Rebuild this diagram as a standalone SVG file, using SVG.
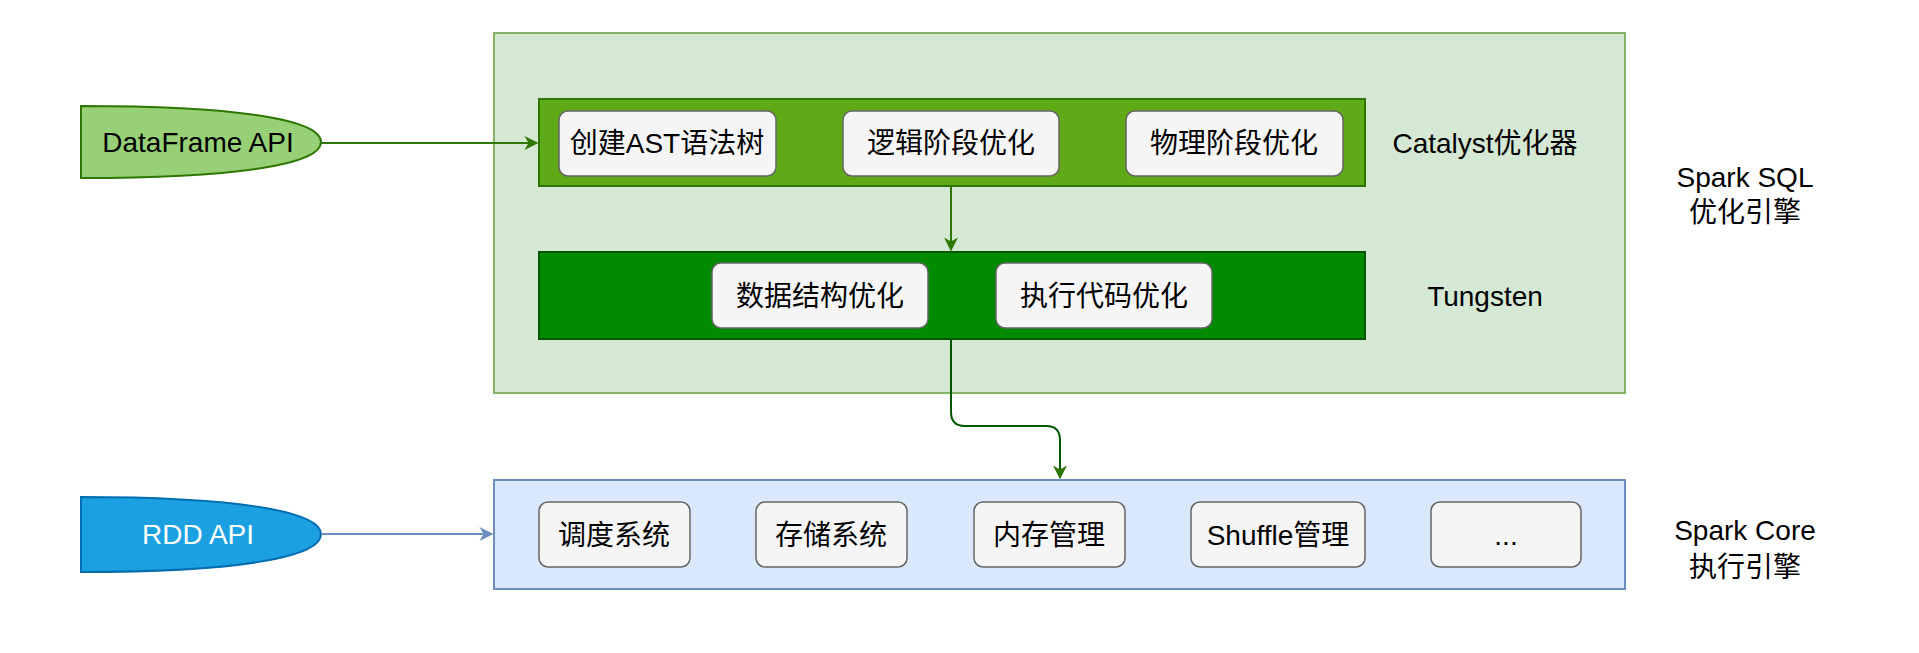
<svg xmlns="http://www.w3.org/2000/svg" width="1919" height="653" viewBox="0 0 1919 653">
<defs>
<style>
text{font-family:"Liberation Sans","Noto Sans CJK SC",sans-serif;font-size:28px;text-anchor:middle;dominant-baseline:central;fill:#000}
.b{fill:#f5f5f5;stroke:#666;stroke-width:1.5}
</style>
<marker id="ag" viewBox="0 0 10 10" refX="9" refY="5" markerWidth="7" markerHeight="7" orient="auto"><path d="M0,0L10,5L0,10L3,5Z" fill="#2d7600"/></marker>
<marker id="ab" viewBox="0 0 10 10" refX="9" refY="5" markerWidth="7" markerHeight="7" orient="auto"><path d="M0,0L10,5L0,10L3,5Z" fill="#6c8ebf"/></marker>
</defs>
<rect width="1919" height="653" fill="#fff"/>
<g id="sparksql"><rect x="494" y="33" width="1131" height="360" fill="#d5e8d4" stroke="#82b366" stroke-width="2"/><text x="1745" y="177">Spark SQL</text><text x="1745" y="212">优化引擎</text></g>
<g id="catalyst"><rect x="539" y="99" width="826" height="87" fill="#60a917" stroke="#2d7600" stroke-width="2"/><text x="1485" y="143">Catalyst优化器</text></g>
<g id="ast"><rect class="b" x="559" y="111" width="217" height="65" rx="9"/><text x="667" y="143">创建AST语法树</text></g>
<g id="logic"><rect class="b" x="843" y="111" width="216" height="65" rx="9"/><text x="951" y="143">逻辑阶段优化</text></g>
<g id="phys"><rect class="b" x="1126" y="111" width="217" height="65" rx="9"/><text x="1234" y="143">物理阶段优化</text></g>
<g id="tungsten"><rect x="539" y="252" width="826" height="87" fill="#008a00" stroke="#005700" stroke-width="2"/><text x="1485" y="296">Tungsten</text></g>
<g id="ds"><rect class="b" x="712" y="263" width="216" height="65" rx="9"/><text x="820" y="296">数据结构优化</text></g>
<g id="code"><rect class="b" x="996" y="263" width="216" height="65" rx="9"/><text x="1104" y="296">执行代码优化</text></g>
<g id="core"><rect x="494" y="480" width="1131" height="109" fill="#dae8fc" stroke="#6c8ebf" stroke-width="2"/><text x="1745" y="530">Spark Core</text><text x="1745" y="567">执行引擎</text></g>
<g id="sched"><rect class="b" x="539" y="502" width="151" height="65" rx="9"/><text x="614" y="535">调度系统</text></g>
<g id="store"><rect class="b" x="756" y="502" width="151" height="65" rx="9"/><text x="831" y="535">存储系统</text></g>
<g id="mem"><rect class="b" x="974" y="502" width="151" height="65" rx="9"/><text x="1049" y="535">内存管理</text></g>
<g id="shuffle"><rect class="b" x="1191" y="502" width="174" height="65" rx="9"/><text x="1278" y="535">Shuffle管理</text></g>
<g id="more"><rect class="b" x="1431" y="502" width="150" height="65" rx="9"/><text x="1506" y="535">...</text></g>
<g id="df"><path d="M81,106C240,106 321,120 321,142C321,164 240,178 81,178Z" fill="#97d077" stroke="#2d7600" stroke-width="2"/><text x="198" y="142">DataFrame API</text></g>
<g id="rdd"><path d="M81,497C240,497 321,512 321,534C321,557 240,572 81,572Z" fill="#1ba1e2" stroke="#006eaf" stroke-width="2"/><text x="198" y="534" style="fill:#fff">RDD API</text></g>
<g id="connectors" fill="none" stroke-width="2">
<path d="M321,143H537" stroke="#2d7600" marker-end="url(#ag)"/>
<path d="M951,186V250" stroke="#2d7600" marker-end="url(#ag)"/>
<path d="M951,339V412Q951,426 965,426H1046Q1060,426 1060,440V478" stroke="#005700" marker-end="url(#ag)"/>
<path d="M321,534H492" stroke="#6c8ebf" marker-end="url(#ab)"/>
</g>
</svg>
